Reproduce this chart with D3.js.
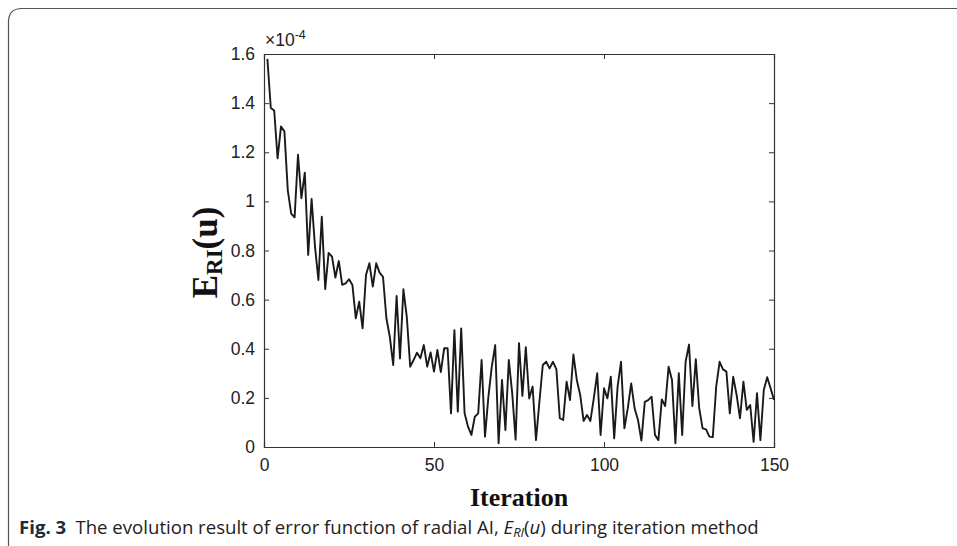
<!DOCTYPE html>
<html><head><meta charset="utf-8">
<script src="https://cdn.jsdelivr.net/npm/d3@7"></script>
<style>html,body{margin:0;padding:0;background:#fff;}svg{display:block;}</style>
</head><body>
<svg id="chart" width="957" height="546"></svg>
<script>
const iterations = d3.range(1, 151);
const errorValues = [
1.58,1.38,1.37,1.175,1.305,1.285,1.045,0.95,0.935,1.19,
1.013,1.117,0.782,1.01,0.816,0.68,0.938,0.643,0.79,0.775,
0.69,0.757,0.66,0.666,0.683,0.66,0.524,0.592,0.483,0.70,
0.748,0.653,0.748,0.71,0.693,0.524,0.449,0.334,0.615,0.361,
0.642,0.53,0.327,0.354,0.384,0.361,0.415,0.327,0.385,0.307,
0.395,0.305,0.402,0.402,0.137,0.476,0.144,0.483,0.137,0.083,
0.049,0.123,0.137,0.354,0.042,0.205,0.327,0.415,0.015,0.273,
0.069,0.354,0.219,0.03,0.423,0.208,0.406,0.198,0.246,0.028,
0.184,0.334,0.347,0.32,0.347,0.316,0.117,0.11,0.266,0.191,
0.377,0.273,0.212,0.106,0.130,0.106,0.198,0.30,0.049,0.239,
0.198,0.286,0.035,0.246,0.347,0.076,0.158,0.259,0.158,0.11,
0.026,0.184,0.191,0.205,0.049,0.028,0.194,0.167,0.327,0.273,
0.015,0.30,0.049,0.347,0.417,0.167,0.357,0.158,0.076,0.072,
0.042,0.04,0.246,0.347,0.316,0.307,0.137,0.286,0.212,0.117,
0.266,0.151,0.171,0.021,0.219,0.028,0.232,0.284,0.239,0.191
];
const xTicks = [0, 50, 100, 150];
const yTicks = [0, 0.2, 0.4, 0.6, 0.8, 1, 1.2, 1.4, 1.6];

const svg = d3.select("#chart");
svg.append("rect").attr("width", 957).attr("height", 546).attr("fill", "#fff");

// card border
svg.append("path")
  .attr("d", "M8.5,546 L8.5,22 Q8.5,8.5 22,8.5 L957,8.5")
  .attr("fill", "none").attr("stroke", "#555").attr("stroke-width", 1.2);

const L = 264, R = 774, T = 54, B = 447;
const x = d3.scaleLinear().domain([0, 150]).range([L, R]);
const y = d3.scaleLinear().domain([0, 1.6]).range([B, T]);

const tickFont = "'Liberation Sans', Arial, sans-serif";
const axColor = "#333";

const gx = svg.append("g").attr("transform", `translate(0,${B})`)
  .call(d3.axisBottom(x).tickValues(xTicks).tickSize(-5).tickPadding(12).tickFormat(d3.format("d")));
const gxt = svg.append("g").attr("transform", `translate(0,${T})`)
  .call(d3.axisTop(x).tickValues(xTicks).tickSize(-5).tickFormat(""));
const gy = svg.append("g").attr("transform", `translate(${L},0)`)
  .call(d3.axisLeft(y).tickValues(yTicks).tickSize(-5).tickPadding(9).tickFormat(d => d === 0 || d === 1 ? d3.format("d")(d) : d3.format(".1f")(d)));
const gyr = svg.append("g").attr("transform", `translate(${R},0)`)
  .call(d3.axisRight(y).tickValues(yTicks).tickSize(-5).tickFormat(""));

[gx, gxt, gy, gyr].forEach(g => {
  g.selectAll(".domain").attr("stroke", axColor).attr("stroke-width", 1.2);
  g.selectAll(".tick line").attr("stroke", axColor).attr("stroke-width", 1);
  g.selectAll("text").attr("font-family", tickFont).attr("font-size", 17.5).attr("fill", "#222");
});

// line
const line = d3.line().x((d, i) => x(iterations[i])).y(d => y(d));
svg.append("path").datum(errorValues)
  .attr("d", line).attr("fill", "none")
  .attr("stroke", "#1a1a1a").attr("stroke-width", 1.9).attr("stroke-linejoin", "round");

// exponent label
const ex = svg.append("text").attr("x", L + 1).attr("y", T - 8)
  .attr("font-family", tickFont).attr("font-size", 17.5).attr("fill", "#222");
ex.append("tspan").text("×10");
ex.append("tspan").attr("dy", -7).attr("font-size", 12.5).text("-4");

// y label
const yl = svg.append("text")
  .attr("transform", `translate(217,${(T + B) / 2 + 2}) rotate(-90)`)
  .attr("text-anchor", "middle")
  .attr("font-family", "'Liberation Serif', 'Times New Roman', serif")
  .attr("font-weight", "bold").attr("font-size", 35).attr("fill", "#111");
yl.append("tspan").text("E");
yl.append("tspan").attr("dy", 5).attr("font-size", 23).text("RI");
yl.append("tspan").attr("dy", -5).text("(u)");

// x label
svg.append("text").attr("x", (L + R) / 2).attr("y", 506)
  .attr("text-anchor", "middle")
  .attr("font-family", "'Liberation Serif', 'Times New Roman', serif")
  .attr("font-weight", "bold").attr("font-size", 26).attr("fill", "#111")
  .text("Iteration");

// caption
const cap = svg.append("text").attr("x", 19).attr("y", 534)
  .attr("font-family", "'Open Sans', 'Noto Sans', sans-serif")
  .attr("font-size", 18.6).attr("fill", "#222");
cap.append("tspan").attr("font-weight", "bold").attr("fill", "#1d2b3a").text("Fig. 3");
cap.append("tspan").text("\u2002The evolution result of error function of radial AI, ");
cap.append("tspan").attr("font-style", "italic").text("E");
cap.append("tspan").attr("font-style", "italic").attr("font-size", 13).attr("dy", 3).text("RI");
cap.append("tspan").attr("dy", -3).text("(");
cap.append("tspan").attr("font-style", "italic").text("u");
cap.append("tspan").text(") during iteration method");
</script>
</body></html>
